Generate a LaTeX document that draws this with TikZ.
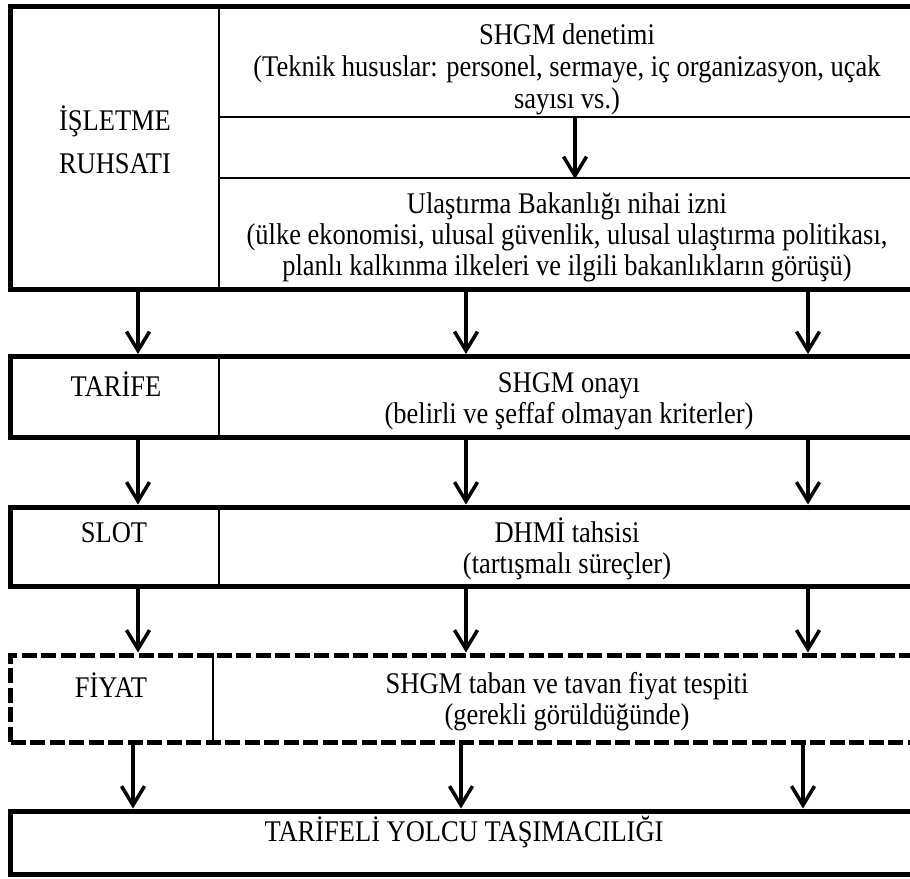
\documentclass[tikz,border=0pt]{standalone}
\usepackage{fontspec}
\setmainfont{Liberation Serif}
\newfontfamily\tallserif{Liberation Serif}[FakeStretch=0.883]
\usetikzlibrary{arrows.meta}
\begin{document}
\begin{tikzpicture}[x=1pt,y=-1pt,
  txt/.style={font=\tallserif\fontsize{30}{31}\selectfont, align=center, inner sep=0pt},
  outerbox/.style={draw, line width=5pt, rectangle, inner sep=0pt},
  dashbox/.style={outerbox, dash pattern=on 15pt off 4.5pt},
  cell/.style={draw, line width=2pt, rectangle, inner sep=0pt},
  divline/.style={line width=2pt},
  arr/.style={line width=3.5pt, -{Straight Barb[length=19pt,width=23pt,line width=3.5pt]}},
]
\useasboundingbox (0,0) rectangle (910,878);

% x positions
\coordinate (a1) at (138,0);
\coordinate (a2) at (466,0);
\coordinate (a3) at (808,0);
\coordinate (b1) at (133,0);
\coordinate (b2) at (461,0);
\coordinate (b3) at (803,0);
\coordinate (ia) at (575,0);
\coordinate (d1) at (219,0);
\coordinate (d2) at (213,0);

% top box (license)
\node[cell, minimum width=697pt, minimum height=111pt] (shgmcell) at (567.5,61.5) {};
\node[cell, minimum width=697pt, minimum height=61pt] (gapcell) at (567.5,147.5) {};
\node[cell, minimum width=697pt, minimum height=111pt] (ulascell) at (567.5,233.5) {};
\node[outerbox, minimum width=905.5pt, minimum height=283pt] (lic) at (463.25,147.5) {};

\node[txt, font=\tallserif\fontsize{30}{43}\selectfont] (islet) at (115,139.5) {İŞLETME\\RUHSATI};
\node[txt, font=\tallserif\fontsize{30}{32}\selectfont] (shgm) at (567,69) {SHGM denetimi\\(Teknik hususlar: personel, sermaye, iç organizasyon, uçak\\sayısı vs.)};
\node[txt] (ulas) at (567,237) {Ulaştırma Bakanlığı nihai izni\\(ülke ekonomisi, ulusal güvenlik, ulusal ulaştırma politikası,\\planlı kalkınma ilkeleri ve ilgili bakanlıkların görüşü)};
\draw[arr] (gapcell.north -| ia) -- (gapcell.south -| ia);

% tarife
\node[outerbox, minimum width=905.5pt, minimum height=80.5pt] (tar) at (463.25,396.75) {};
\draw[divline] (tar.north -| d1) -- (tar.south -| d1);
\node[txt] (tarl) at (116,384) {TARİFE};
\node[txt] (tart) at (569,401) {SHGM onayı\\(belirli ve şeffaf olmayan kriterler)};

% slot
\node[outerbox, minimum width=905.5pt, minimum height=79pt] (slot) at (463.25,546.5) {};
\draw[divline] (slot.north -| d1) -- (slot.south -| d1);
\node[txt] (slotl) at (114,533) {SLOT};
\node[txt] (slott) at (567,549) {DHMİ tahsisi\\(tartışmalı süreçler)};

% fiyat (dashed)
\node[dashbox, minimum width=905.5pt, minimum height=87pt] (fiy) at (463.25,698.5) {};
\draw[divline] (fiy.north -| d2) -- (fiy.south -| d2);
\node[txt] (fiyl) at (111,685) {FİYAT};
\node[txt] (fiyt) at (567,702) {SHGM taban ve tavan fiyat tespiti\\(gerekli görüldüğünde)};

% bottom
\node[outerbox, minimum width=905.5pt, minimum height=63pt] (bot) at (463.25,842.5) {};
\node[txt] (bott) at (464,832) {TARİFELİ YOLCU TAŞIMACILIĞI};

% arrows
\foreach \c in {a1,a2,a3} {
  \draw[arr] (lic.south -| \c) -- (tar.north -| \c);
  \draw[arr] (tar.south -| \c) -- (slot.north -| \c);
  \draw[arr] (slot.south -| \c) -- (fiy.north -| \c);
}
\foreach \c in {b1,b2,b3} {
  \draw[arr] (fiy.south -| \c) -- (bot.north -| \c);
}
\end{tikzpicture}
\end{document}
